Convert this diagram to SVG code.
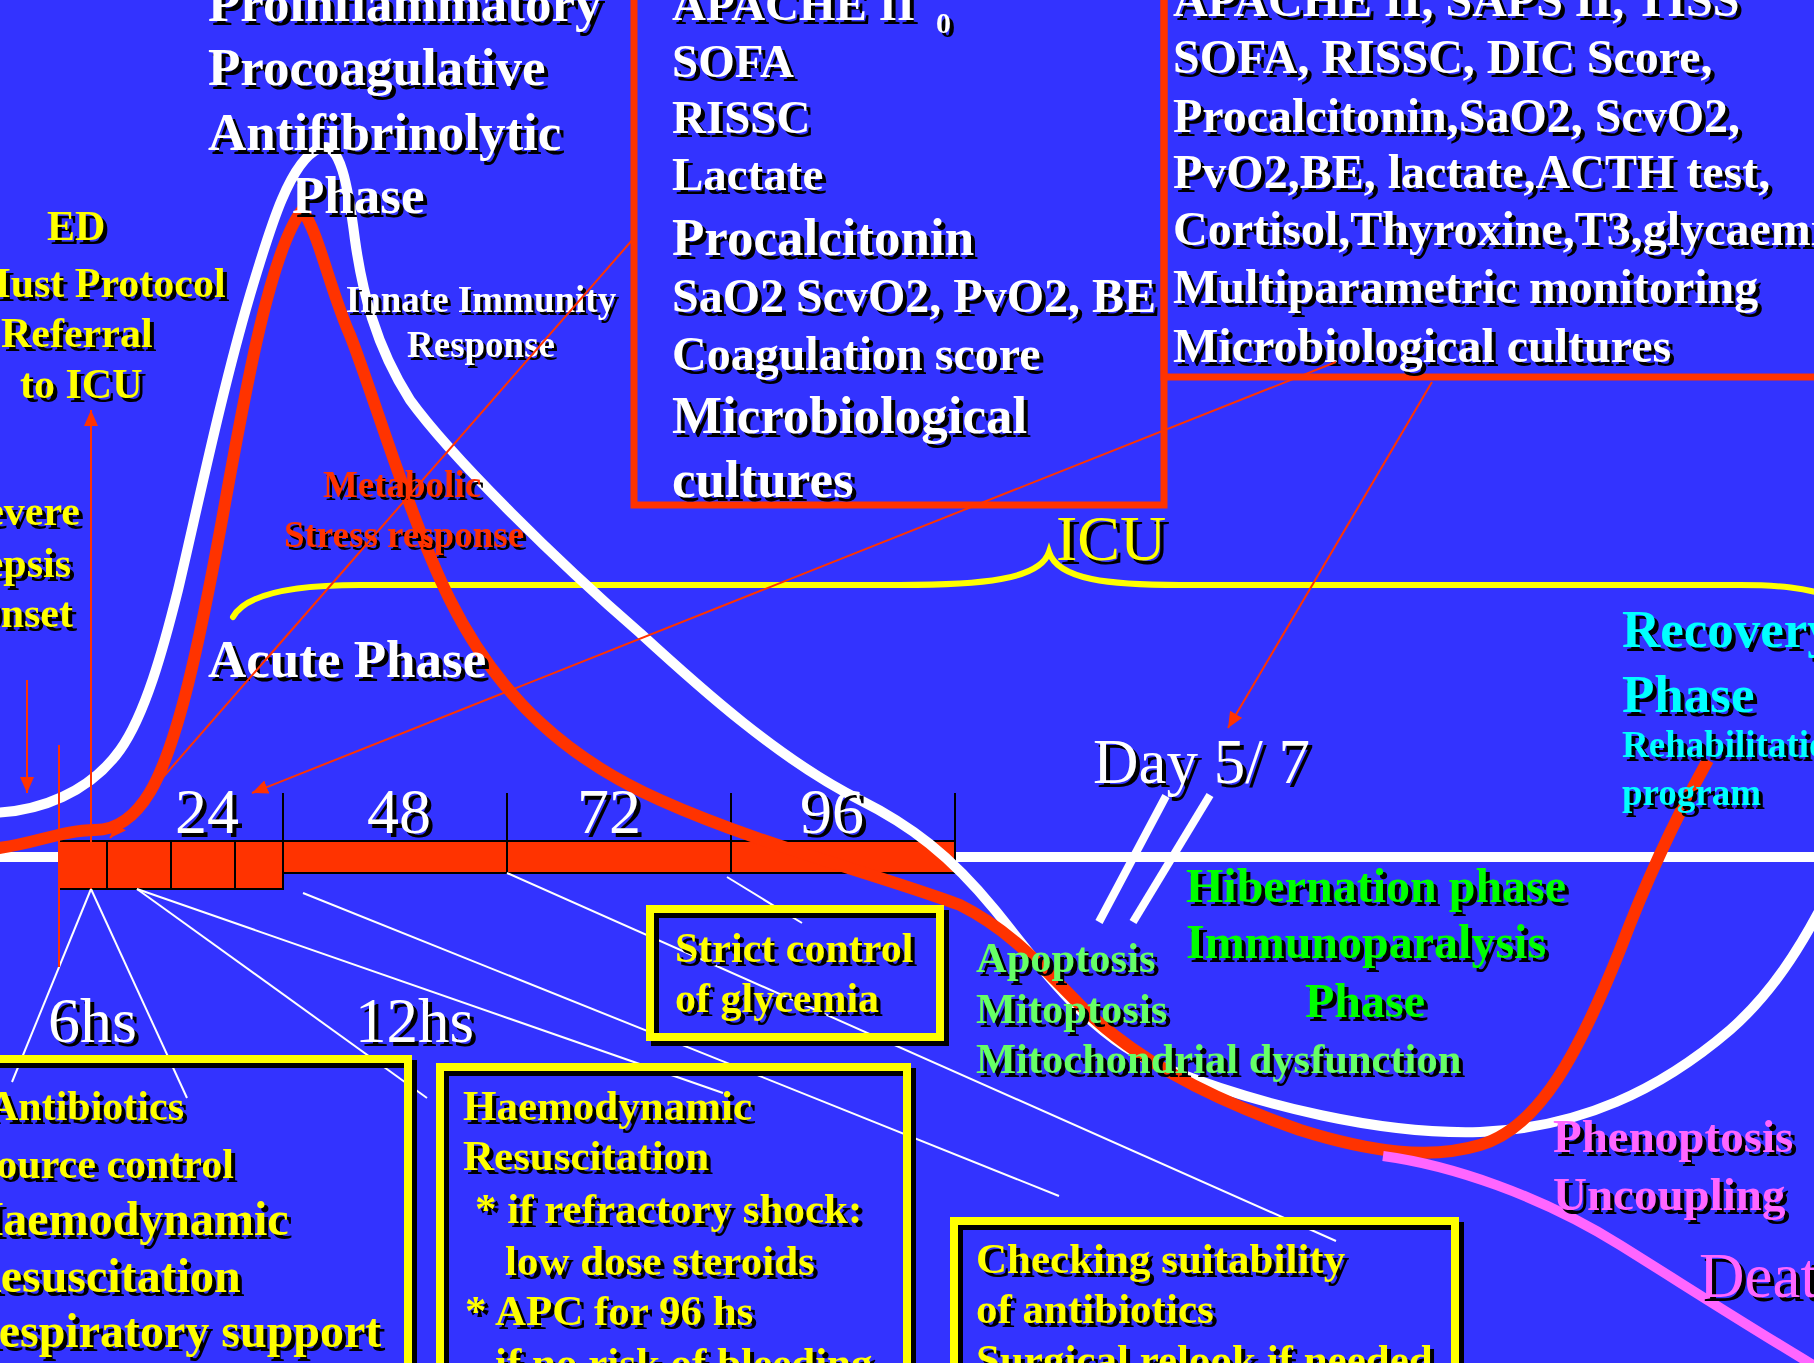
<svg xmlns="http://www.w3.org/2000/svg" width="1814" height="1363" viewBox="0 0 1814 1363">
  <defs>
    <style>
      text { font-family: 'Liberation Serif', 'Times New Roman', serif; }
      .b { font-weight: bold; }
      .w { fill: #ffffff; }
      .y { fill: #ffff00; }
      .r { fill: #ff3300; }
      .g { fill: #00ff00; }
      .lg { fill: #66ff66; }
      .c { fill: #00ffff; }
      .p { fill: #ff66ff; }
      .curve { fill: none; stroke-linecap: butt; }
      .thin { fill: none; stroke-width: 2; }
      .wl { stroke: #ffffff; }
      .rl { stroke: #ff3300; }
      .frame { fill: none; stroke: #ffff00; stroke-width: 8; }
      .frame-sh { fill: none; stroke: #000000; stroke-width: 8; }
      .redframe { fill: none; stroke: #ff3300; stroke-width: 7; }
      .seg { fill: #ff3300; stroke: #000000; stroke-width: 2; }
      .tick { stroke: #000000; stroke-width: 2; }
    </style>
    <filter id="sh" x="-10%" y="-30%" width="130%" height="170%" color-interpolation-filters="sRGB">
      <feOffset in="SourceAlpha" dx="4" dy="4" result="off"/>
      <feFlood flood-color="#000000"/>
      <feComposite in2="off" operator="in" result="shadow"/>
      <feMerge>
        <feMergeNode in="shadow"/>
        <feMergeNode in="SourceGraphic"/>
      </feMerge>
    </filter>
    <filter id="sh3" x="-10%" y="-30%" width="130%" height="170%" color-interpolation-filters="sRGB">
      <feOffset in="SourceAlpha" dx="3" dy="3" result="off"/>
      <feFlood flood-color="#000000"/>
      <feComposite in2="off" operator="in" result="shadow"/>
      <feMerge>
        <feMergeNode in="shadow"/>
        <feMergeNode in="SourceGraphic"/>
      </feMerge>
    </filter>
    <marker id="ah" markerUnits="userSpaceOnUse" markerWidth="18" markerHeight="16" refX="16" refY="7" orient="auto">
      <path d="M0,0 L16,7 L0,14 z" fill="#ff3300"/>
    </marker>
  </defs>

  <!-- background -->
  <rect x="0" y="0" width="1814" height="1363" fill="#3333ff"/>

  <!-- time axis -->
  <g id="axis">
    <line x1="0" y1="857" x2="1814" y2="857" stroke="#ffffff" stroke-width="10"/>
  </g>

  <!-- hourly timeline bar -->
  <g id="timeline">
    <rect class="seg" x="283" y="841" width="672" height="32"/>
    <rect class="seg" x="59" y="841" width="48" height="48"/>
    <rect class="seg" x="107" y="841" width="64" height="48"/>
    <rect class="seg" x="171" y="841" width="64" height="48"/>
    <rect class="seg" x="235" y="841" width="48" height="48"/>
    <line class="tick" x1="283" y1="793" x2="283" y2="873"/>
    <line class="tick" x1="507" y1="793" x2="507" y2="873"/>
    <line class="tick" x1="731" y1="793" x2="731" y2="873"/>
    <line class="tick" x1="955" y1="793" x2="955" y2="873"/>
  </g>

  <!-- ICU brace -->
  <g id="icu-brace">
    <path d="M233,617 C245,595 290,585 360,585 L900,585 C980,585 1040,580 1049,552 C1058,580 1110,585 1180,585 L1740,585 C1780,585 1805,588 1830,596" fill="none" stroke="#ffff00" stroke-width="6" stroke-linecap="round"/>
  </g>

  <!-- response curves -->
  <g id="curves">
    <path id="inflammatory-curve" class="curve" stroke="#ffffff" stroke-width="10"
      d="M-10,813 C40,812 90,792 120,750 C145,715 163,650 178,590 C198,505 222,390 250,295 C270,228 290,160 320,148 C340,140 348,185 355,240 C362,290 375,345 410,400 C450,455 550,555 640,633 C700,688 780,760 860,800 C910,825 950,855 995,910 C1040,965 1090,1040 1170,1070 C1260,1105 1380,1135 1480,1132 C1580,1128 1660,1090 1730,1030 C1770,995 1800,950 1830,890"/>
    <path id="metabolic-curve" class="curve" stroke="#ff3300" stroke-width="12"
      d="M-10,849 C30,846 60,830 95,830 C120,830 138,812 150,792 C178,745 200,640 222,520 C242,410 268,255 302,210 C318,230 330,290 350,335 C372,390 410,520 450,600 C500,700 570,760 660,800 C760,845 880,875 960,905 C1010,930 1040,965 1080,1005 C1130,1055 1200,1095 1300,1130 C1370,1152 1430,1160 1480,1145 C1540,1128 1580,1050 1620,950 C1650,870 1680,810 1708,760"/>
    <path id="death-curve" class="curve" stroke="#ff66ff" stroke-width="10"
      d="M1383,1156 C1450,1165 1540,1195 1620,1245 C1700,1295 1770,1340 1830,1375"/>
  </g>

  <!-- hour marks -->
  <g id="timeline-labels" class="w" font-size="64" filter="url(#sh)">
    <text x="175" y="833">24</text>
    <text x="367" y="833">48</text>
    <text x="577" y="833">72</text>
    <text x="800" y="833">96</text>
    <text x="48" y="1042">6hs</text>
    <text x="355" y="1042" font-size="63">12hs</text>
  </g>

  <!-- phase labels -->
  <g id="proinflammatory-phase" class="b w" font-size="53" filter="url(#sh)">
    <text x="208" y="21">Proinflammatory</text>
    <text x="208" y="85">Procoagulative</text>
    <text x="208" y="150">Antifibrinolytic</text>
    <text x="292" y="213">Phase</text>
  </g>

  <g id="ed-label" class="b y" font-size="42" filter="url(#sh)">
    <text x="47" y="240">ED</text>
    <text x="-29" y="297">Must Protocol</text>
    <text x="1" y="347">Referral</text>
    <text x="20" y="398">to ICU</text>
  </g>

  <g id="sepsis-onset" class="b y" font-size="42" text-anchor="end" filter="url(#sh)">
    <text x="80" y="525">Severe</text>
    <text x="71" y="577">Sepsis</text>
    <text x="73" y="627">Onset</text>
  </g>

  <g id="innate-immunity" class="b w" font-size="37" text-anchor="middle" filter="url(#sh3)">
    <text x="481" y="312">Innate Immunity</text>
    <text x="481" y="357">Response</text>
  </g>

  <g id="metabolic-stress" class="b r" font-size="37" text-anchor="middle" filter="url(#sh3)">
    <text x="402" y="497">Metabolic</text>
    <text x="404" y="547">Stress response</text>
  </g>

  <g id="acute-phase" class="b w" font-size="53" filter="url(#sh)">
    <text x="208" y="677">Acute Phase</text>
  </g>

  <g id="icu-label" class="y" font-size="64" filter="url(#sh)">
    <text x="1056" y="560">ICU</text>
  </g>

  <g id="day-marker">
    <line x1="1166" y1="796" x2="1099" y2="922" stroke="#ffffff" stroke-width="8"/>
    <line x1="1210" y1="795" x2="1133" y2="922" stroke="#ffffff" stroke-width="8"/>
    <g class="w" font-size="63" filter="url(#sh)">
      <text x="1093" y="783">Day 5/ 7</text>
    </g>
  </g>

  <g id="recovery-phase" class="b c" filter="url(#sh)">
    <text x="1622" y="647" font-size="53">Recovery</text>
    <text x="1622" y="712" font-size="53">Phase</text>
    <text x="1622" y="757" font-size="37">Rehabilitation</text>
    <text x="1622" y="805" font-size="37">program</text>
  </g>

  <g id="hibernation-phase" class="b g" font-size="48" filter="url(#sh)">
    <text x="1186" y="902">Hibernation phase</text>
    <text x="1186" y="958">Immunoparalysis</text>
    <text x="1305" y="1017">Phase</text>
  </g>

  <g id="cell-death" class="b lg" font-size="42.5" filter="url(#sh)">
    <text x="976" y="972">Apoptosis</text>
    <text x="976" y="1023">Mitoptosis</text>
    <text x="976" y="1073">Mitochondrial dysfunction</text>
  </g>

  <g id="phenoptosis" class="b p" font-size="47" filter="url(#sh)">
    <text x="1553" y="1152">Phenoptosis</text>
    <text x="1553" y="1210">Uncoupling</text>
  </g>

  <g id="death" class="p" font-size="63" filter="url(#sh)">
    <text x="1699" y="1297">Death</text>
  </g>

  <!-- admission scores box -->
  <g id="admission-scores">
    <rect class="redframe" x="634" y="-20" width="530" height="525"/>
    <g class="b w" filter="url(#sh)">
      <text x="672" y="20" font-size="47">APACHE II<tspan x="936" y="33" font-size="30">0</tspan></text>
      <text x="672" y="77" font-size="47">SOFA</text>
      <text x="672" y="133" font-size="47">RISSC</text>
      <text x="672" y="190" font-size="47">Lactate</text>
      <text x="672" y="255" font-size="53">Procalcitonin</text>
      <text x="672" y="312" font-size="48">SaO2 ScvO2, PvO2, BE</text>
      <text x="672" y="370" font-size="48">Coagulation score</text>
      <text x="672" y="433" font-size="53">Microbiological</text>
      <text x="672" y="497" font-size="53">cultures</text>
    </g>
  </g>

  <!-- ICU monitoring box -->
  <g id="icu-monitoring">
    <rect class="redframe" x="1164" y="-20" width="700" height="397"/>
    <g class="b w" font-size="48" filter="url(#sh)">
      <text x="1173" y="16">APACHE II, SAPS II, TISS</text>
      <text x="1173" y="73">SOFA, RISSC, DIC Score,</text>
      <text x="1173" y="132">Procalcitonin,SaO2, ScvO2,</text>
      <text x="1173" y="188">PvO2,BE, lactate,ACTH test,</text>
      <text x="1173" y="245">Cortisol,Thyroxine,T3,glycaemia</text>
      <text x="1173" y="303">Multiparametric monitoring</text>
      <text x="1173" y="362">Microbiological cultures</text>
    </g>
  </g>

  <!-- connectors -->
  <g id="connectors">
    <line class="thin wl" x1="91" y1="889" x2="12" y2="1082"/>
    <line class="thin wl" x1="91" y1="889" x2="187" y2="1098"/>
    <line class="thin wl" x1="137" y1="889" x2="427" y2="1098"/>
    <line class="thin wl" x1="137" y1="889" x2="723" y2="1093"/>
    <line class="thin wl" x1="303" y1="893" x2="1059" y2="1196"/>
    <line class="thin wl" x1="507" y1="873" x2="1336" y2="1241"/>
    <line class="thin wl" x1="727" y1="877" x2="802" y2="923"/>
    <line class="thin rl" x1="634" y1="238" x2="110" y2="838" marker-end="url(#ah)"/>
    <line class="thin rl" x1="1336" y1="362" x2="252" y2="793" marker-end="url(#ah)"/>
    <line class="thin rl" x1="1432" y1="382" x2="1228" y2="728" marker-end="url(#ah)"/>
    <line class="thin rl" x1="91" y1="889" x2="91" y2="410" marker-end="url(#ah)"/>
    <line class="thin rl" x1="27" y1="680" x2="27" y2="793" marker-end="url(#ah)"/>
    <line class="thin rl" x1="59" y1="745" x2="59" y2="967"/>
  </g>

  <!-- first 6 hours box -->
  <g id="first-6hs">
    <rect class="frame-sh" x="-25" y="1064" width="438" height="400"/>
    <rect class="frame" x="-30" y="1059" width="438" height="400"/>
    <g class="b y" font-size="48" filter="url(#sh)">
      <text x="-12" y="1120" font-size="42">Antibiotics</text>
      <text x="-27" y="1178" font-size="42">Source control</text>
      <text x="-34" y="1235">Haemodynamic</text>
      <text x="-34" y="1292">Resuscitation</text>
      <text x="-36" y="1347">Respiratory support</text>
    </g>
  </g>

  <!-- 12 hours box -->
  <g id="first-12hs">
    <rect class="frame-sh" x="445" y="1072" width="467" height="400"/>
    <rect class="frame" x="440" y="1067" width="467" height="400"/>
    <g class="b y" font-size="43" filter="url(#sh)">
      <text x="463" y="1120">Haemodynamic</text>
      <text x="463" y="1170">Resuscitation</text>
      <text x="475" y="1223">* if refractory shock:</text>
      <text x="505" y="1275">low dose steroids</text>
      <text x="465" y="1325">* APC for 96 hs</text>
      <text x="495" y="1377">if no risk of bleeding</text>
    </g>
  </g>

  <!-- glycemia box -->
  <g id="glycemia">
    <rect class="frame-sh" x="655" y="914" width="290" height="128"/>
    <rect class="frame" x="650" y="909" width="290" height="128"/>
    <g class="b y" font-size="42" filter="url(#sh)">
      <text x="675" y="962">Strict control</text>
      <text x="675" y="1012">of glycemia</text>
    </g>
  </g>

  <!-- antibiotic review box -->
  <g id="antibiotic-review">
    <rect class="frame-sh" x="959" y="1226" width="501" height="300"/>
    <rect class="frame" x="954" y="1221" width="501" height="300"/>
    <g class="b y" font-size="43" filter="url(#sh)">
      <text x="976" y="1273">Checking suitability</text>
      <text x="976" y="1323">of antibiotics</text>
      <text x="976" y="1374">Surgical relook if needed</text>
    </g>
  </g>
</svg>
